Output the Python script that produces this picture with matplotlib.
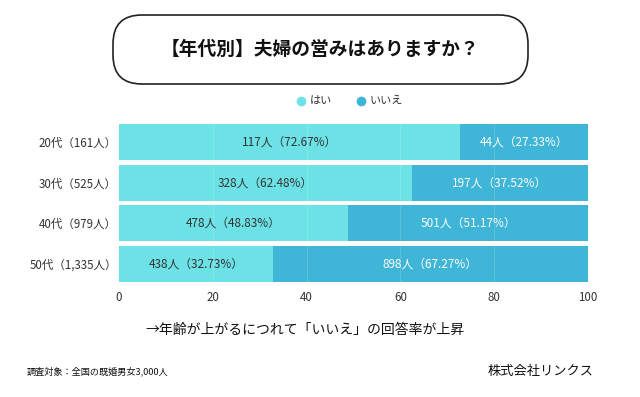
import matplotlib.pyplot as plt
from matplotlib.patches import FancyBboxPatch
from matplotlib.lines import Line2D

plt.rcParams['font.family'] = ['Noto Sans CJK JP', 'DejaVu Sans']

# データ
categories = ["20代（161人）", "30代（525人）", "40代（979人）", "50代（1,335人）"]
yes_pct = [72.67, 62.48, 48.83, 32.73]
no_pct = [27.33, 37.52, 51.17, 67.27]
yes_n = [117, 328, 478, 438]
no_n = [44, 197, 501, 898]
xticks = [0, 20, 40, 60, 80, 100]

c_yes = "#6ce2e7"
c_no = "#3fb5d7"
c_text = "#333333"

fig = plt.figure(figsize=(6.4, 3.97), dpi=100)
fig.patch.set_facecolor("white")

# タイトル枠
W, H = 640, 397
box = FancyBboxPatch((113 / W, 1 - 84 / H), (528 - 113) / W, (84 - 15) / H,
                     boxstyle="round,pad=0,rounding_size=0.045",
                     transform=fig.transFigure, facecolor="white",
                     edgecolor="#222222", linewidth=1.2, mutation_aspect=W / H)
fig.patches.append(box)
fig.text(320 / W, 1 - 49 / H, "【年代別】夫婦の営みはありますか？",
         ha="center", va="center", fontsize=13.5, fontweight="bold", color="#111111")

# 凡例
for cx, col, lab in [(301, c_yes, "はい"), (361, c_no, "いいえ")]:
    fig.add_artist(Line2D([cx / W], [1 - 101 / H], marker="o", markersize=7,
                          markerfacecolor=col, markeredgecolor="none",
                          linestyle="none", transform=fig.transFigure))
    fig.text((cx + 9) / W, 1 - 101 / H, lab, ha="left", va="center",
             fontsize=8, color=c_text)

# 棒グラフ
ax = fig.add_axes([119 / W, 1 - 284 / H, (588 - 119) / W, (284 - 122) / H])
y = list(range(len(categories)))
ax.barh(y, yes_pct, height=0.89, color=c_yes, zorder=2)
ax.barh(y, no_pct, left=yes_pct, height=0.89, color=c_no, zorder=2)

for i in y:
    ax.text(yes_pct[i] / 2, i, f"{yes_n[i]}人（{yes_pct[i]:.2f}%）",
            ha="center", va="center", fontsize=8.5, color=c_text, zorder=4)
    ax.text(yes_pct[i] + no_pct[i] / 2, i, f"{no_n[i]}人（{no_pct[i]:.2f}%）",
            ha="center", va="center", fontsize=8.5, color="white", zorder=4)

for xv in xticks[1:-1]:
    ax.axvline(xv, color="white", alpha=0.15, linewidth=0.8, zorder=3)

ax.set_xlim(0, 100)
ax.set_ylim(3.5, -0.5)
ax.set_xticks(xticks)
ax.set_yticks(y)
ax.set_yticklabels(categories)
ax.tick_params(length=0, labelsize=8.3, colors=c_text)
ax.tick_params(axis="x", pad=5)
ax.tick_params(axis="y", pad=1.5)
for s in ax.spines.values():
    s.set_visible(False)

# 注釈
fig.text(145 / W, 1 - 330 / H, "→年齢が上がるにつれて「いいえ」の回答率が上昇",
         ha="left", va="center", fontsize=10, color="#111111")
fig.text(27 / W, 1 - 371 / H, "調査対象：全国の既婚男女3,000人",
         ha="left", va="center", fontsize=6.6, color="#111111")
fig.text(594 / W, 1 - 371 / H, "株式会社リンクス",
         ha="right", va="center", fontsize=9.5, color="#111111")

fig.savefig("out.png", dpi=100)
